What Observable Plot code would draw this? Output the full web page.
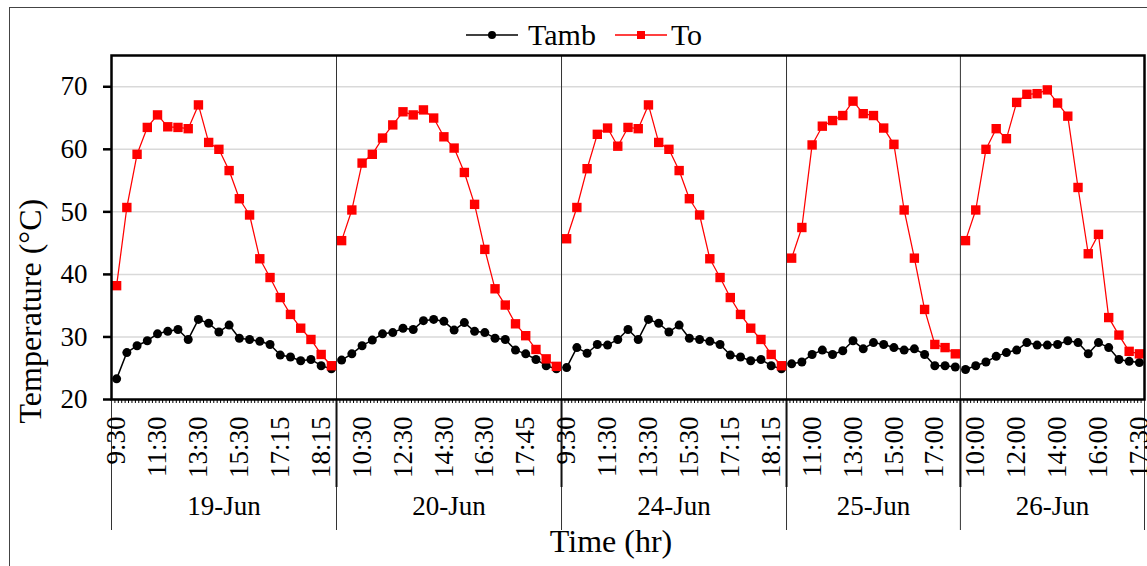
<!DOCTYPE html>
<html><head><meta charset="utf-8">
<script src="https://cdn.jsdelivr.net/npm/d3@7"></script>
<script src="https://cdn.jsdelivr.net/npm/@observablehq/plot@0.6"></script>
<style>
html,body{margin:0;padding:0;overflow:hidden;background:#fff;}
#wrap{position:relative;width:1147px;height:566px;overflow:hidden;font-family:'Liberation Serif','Times New Roman',serif;}
#legend{position:relative;height:48px;}
#legrow{position:absolute;left:466px;top:20px;height:30px;display:flex;align-items:center;font-size:30px;line-height:30px;color:#000;}
#border{position:absolute;left:9px;top:7px;width:1200px;height:620px;border:1.5px solid #444;box-sizing:border-box;pointer-events:none;}
#chart svg{display:block;}
</style></head>
<body><div id="wrap"><div id="legend"><div id="legrow"></div></div><div id="chart"></div><div id="border"></div></div>
<script>
// ---- data ----
const days = ["19-Jun", "20-Jun", "24-Jun", "25-Jun", "26-Jun"];

const tamb19 = [23.3,27.5,28.6,29.4,30.5,30.9,31.2,29.6,32.8,32.2,30.8,31.9,29.8,29.6,29.3,28.8,27.1,26.8,26.2,26.4,25.4,24.9];
const to19   = [38.2,50.7,59.2,63.5,65.5,63.6,63.5,63.3,67.1,61.1,60.0,56.6,52.1,49.5,42.5,39.5,36.3,33.6,31.4,29.6,27.2,25.4];

const tamb20 = [26.3,27.3,28.6,29.5,30.5,30.7,31.4,31.2,32.6,32.8,32.5,31.1,32.3,30.9,30.7,29.8,29.6,27.9,27.3,26.4,25.4,24.9];
const to20   = [45.4,50.3,57.8,59.2,61.8,63.9,66.0,65.5,66.3,65.0,62.0,60.2,56.3,51.2,44.0,37.7,35.1,32.1,30.2,28.0,26.5,25.3];

const tamb24 = [25.1,28.3,27.4,28.8,28.7,29.6,31.2,29.6,32.8,32.2,30.8,31.9,29.8,29.6,29.3,28.8,27.1,26.8,26.2,26.4,25.4,24.9];
const to24   = [45.7,50.7,56.9,62.4,63.4,60.5,63.5,63.3,67.1,61.1,60.0,56.6,52.1,49.5,42.5,39.5,36.3,33.6,31.4,29.6,27.2,25.4];

const tamb25 = [25.7,26.0,27.2,27.9,27.2,27.8,29.4,28.1,29.1,28.8,28.3,27.9,28.1,27.2,25.4,25.4,25.2];
const to25   = [42.6,47.5,60.7,63.7,64.6,65.4,67.7,65.7,65.4,63.4,60.8,50.3,42.6,34.4,28.8,28.3,27.3];

const tamb26 = [24.8,25.4,26.0,26.9,27.5,27.9,29.1,28.7,28.7,28.8,29.4,29.1,27.3,29.1,28.3,26.4,26.1,25.9];
const to26   = [45.4,50.3,60.0,63.3,61.7,67.5,68.8,68.9,69.5,67.4,65.3,53.9,43.3,46.4,33.1,30.3,27.7,27.3];

// time tick labels shown for each day (Excel shows every 4th category)
const times19 = ["9:30","11:30","13:30","15:30","17:15","18:15"];
const times20 = ["10:30","12:30","14:30","16:30","17:45"];
const times24 = ["9:30","11:30","13:30","15:30","17:15","18:15"];
const times25 = ["11:00","13:00","15:00","17:00"];
const times26 = ["10:00","12:00","14:00","16:00","17:30"];

const yTicks = [20, 30, 40, 50, 60, 70];
const seriesNames = ["Tamb", "To"];
const seriesColors = ["#000000", "#ff0000"];

// ---- build table ----
const tambs = [tamb19, tamb20, tamb24, tamb25, tamb26];
const tos = [to19, to20, to24, to25, to26];
const timesAll = [times19, times20, times24, times25, times26];
const labelEvery = 4;

const rows = [];
const dayInfo = [];
const bounds = [0];
const labelTicks = [];
let g = 0;
days.forEach((day, k) => {
  const start = g;
  let li = 0;
  tambs[k].forEach((v, i) => {
    const x = g + 0.5;
    rows.push({day, x, tamb: v, to: tos[k][i]});
    if (g % labelEvery === 0) { labelTicks.push({x, label: timesAll[k][li++]}); }
    g++;
  });
  dayInfo.push({day, mid: (start + g) / 2});
  bounds.push(g);
});
const N = g;
const inner = bounds.slice(1, -1);
const minor = d3.range(0, N * 3 + 1).map(k => k / 3);
const labelMap = new Map(labelTicks.map(d => [d.x, d.label]));

const chart = Plot.plot({
  width: 1147,
  height: 518,
  marginTop: 7,
  marginBottom: 167,
  marginLeft: 111,
  marginRight: 3,
  style: {fontFamily: "'Liberation Serif', 'Times New Roman', serif", fontSize: "27px", color: "#000", background: "#fff"},
  x: {domain: [0, N], axis: null},
  y: {domain: [20, 75], axis: null},
  marks: [
    Plot.gridY(yTicks.slice(1), {stroke: "#d9d9d9", strokeOpacity: 1, strokeWidth: 1.5}),
    Plot.ruleX(inner, {stroke: "#333", strokeWidth: 1}),
    Plot.axisY(yTicks, {tickSize: 8, tickPadding: 16, strokeWidth: 2.5, fontSize: 27, label: null}),
    Plot.axisX(minor, {tickSize: 4, tickFormat: () => "", strokeWidth: 1, label: null}),
    Plot.axisX(bounds, {tickSize: 131, tickFormat: () => "", stroke: "#333", strokeWidth: 1, label: null}),
    Plot.axisX(inner, {tickSize: 88, tickFormat: () => "", stroke: "#111", strokeWidth: 2, label: null}),
    Plot.axisX(labelTicks.map(d => d.x), {tickSize: 0, tickPadding: 17, tickRotate: -90, tickFormat: d => labelMap.get(d), fontSize: 27, label: null}),
    Plot.text(dayInfo, {x: "mid", text: "day", frameAnchor: "bottom", dy: 115, fontSize: 27}),
    Plot.text(["Time (hr)"], {frameAnchor: "bottom", dy: 152, dx: -17, fontSize: 32}),
    Plot.text(["Temperature (°C)"], {frameAnchor: "left", textAnchor: "start", rotate: -90, dx: -81, dy: 196, fontSize: 32}),
    Plot.line(rows, {x: "x", y: "tamb", z: "day", stroke: seriesColors[0], strokeWidth: 1.5}),
    Plot.dot(rows, {x: "x", y: "tamb", r: 4.5, fill: seriesColors[0], stroke: "none"}),
    Plot.line(rows, {x: "x", y: "to", z: "day", stroke: seriesColors[1], strokeWidth: 1.25}),
    Plot.dot(rows, {x: "x", y: "to", r: 5.3, symbol: "square", fill: seriesColors[1], stroke: "none"}),
    Plot.frame({stroke: "#000", strokeWidth: 2.5})
  ]
});
document.getElementById("chart").appendChild(chart);

// legend
const legrow = document.getElementById("legrow");
const ns = "http://www.w3.org/2000/svg";
seriesNames.forEach((name, i) => {
  const s = document.createElementNS(ns, "svg");
  s.setAttribute("width", 52); s.setAttribute("height", 30);
  s.style.marginLeft = i === 0 ? "0px" : "19px";
  const ln = document.createElementNS(ns, "line");
  ln.setAttribute("x1", 0); ln.setAttribute("x2", 52); ln.setAttribute("y1", 15); ln.setAttribute("y2", 15);
  ln.setAttribute("stroke", seriesColors[i]); ln.setAttribute("stroke-width", 1.5);
  s.appendChild(ln);
  if (i === 0) {
    const c = document.createElementNS(ns, "circle");
    c.setAttribute("cx", 26); c.setAttribute("cy", 15); c.setAttribute("r", 4); c.setAttribute("fill", seriesColors[i]);
    s.appendChild(c);
  } else {
    const r = document.createElementNS(ns, "rect");
    r.setAttribute("x", 22); r.setAttribute("y", 11); r.setAttribute("width", 8); r.setAttribute("height", 8); r.setAttribute("fill", seriesColors[i]);
    s.appendChild(r);
  }
  legrow.appendChild(s);
  const t = document.createElement("span");
  t.textContent = name;
  t.style.marginLeft = i === 0 ? "10px" : "4px";
  legrow.appendChild(t);
});
</script>
</body></html>
